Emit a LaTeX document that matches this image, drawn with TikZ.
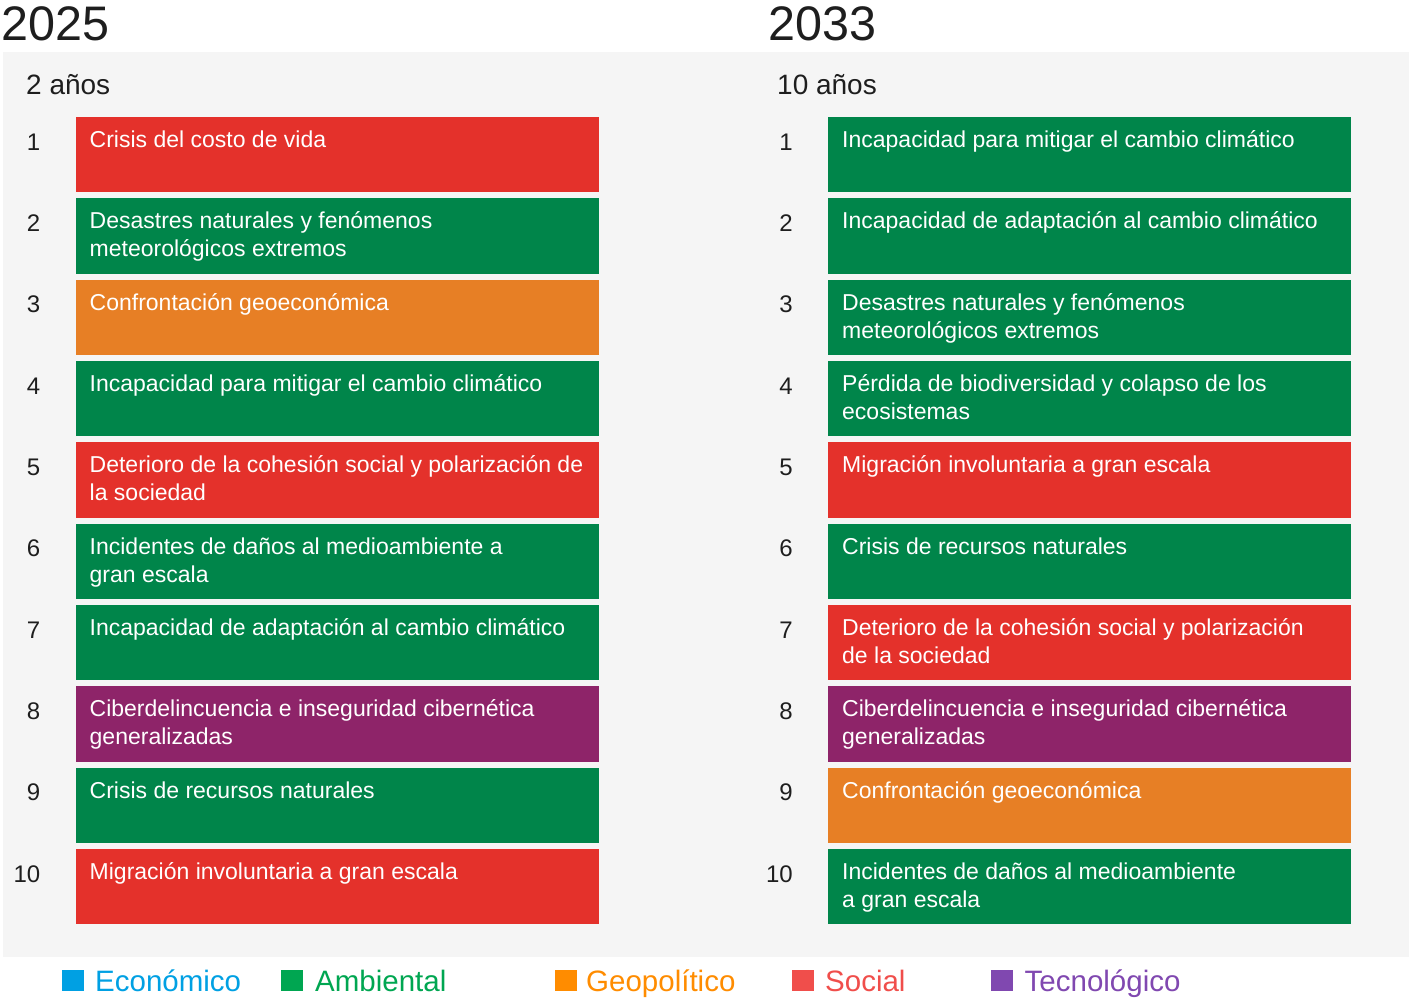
\documentclass[tikz,border=0pt]{standalone}
\usepackage{fontspec}
\setmainfont{Liberation Sans}

\definecolor{riskred}{RGB}{228,49,43}
\definecolor{riskgreen}{RGB}{0,133,74}
\definecolor{riskorange}{RGB}{231,127,37}
\definecolor{riskpurple}{RGB}{142,36,105}
\definecolor{panelgray}{RGB}{245,245,245}
\definecolor{inkdark}{RGB}{30,30,30}
\definecolor{keyblue}{RGB}{0,160,227}
\definecolor{keygreen}{RGB}{0,166,81}
\definecolor{keyorange}{RGB}{255,140,0}
\definecolor{keyred}{RGB}{240,78,75}
\definecolor{keypurple}{RGB}{128,72,176}

\tikzset{
  riskbox/.style={rectangle,anchor=north west,inner sep=0pt,minimum width=523pt,minimum height=75.5pt},
  risktext/.style={anchor=north west,inner sep=0pt,text=white,align=flush left,text width=505pt,
    xshift=14pt,yshift=-11.4pt,font=\fontsize{23}{27.7}\selectfont,
    execute at begin node={\spaceskip=0pt\xspaceskip=0pt\strut}},
  rank/.style={anchor=base east,inner sep=0pt,text=inkdark,xshift=-35pt,yshift=-33.4pt,
    font=\fontsize{24}{28}\selectfont},
  keybox/.style={rectangle,anchor=north west,inner sep=0pt,minimum width=22pt,minimum height=21pt},
  keytext/.style={anchor=base west,inner sep=0pt,font=\fontsize{29.5}{34}\selectfont}
}

\begin{document}
\begin{tikzpicture}[x=1pt,y=-1pt]
        \useasboundingbox (0,0) rectangle (1409,998);

        % Light panel behind both lists
        \fill[panelgray] (3,52) rectangle (1409,957);

        % Year headings
        \node[anchor=base west,inner sep=0pt,text=inkdark,font=\fontsize{48.5}{52}\selectfont] (yearA) at (1,41) {2025};
        \node[anchor=base west,inner sep=0pt,text=inkdark,font=\fontsize{48.5}{52}\selectfont] (yearB) at (768,41) {2033};

        % Horizon headings
        \node[anchor=base west,inner sep=0pt,text=inkdark,font=\fontsize{28}{32}\selectfont] (spanA) at (26,95) {2 años};
        \node[anchor=base west,inner sep=0pt,text=inkdark,font=\fontsize{28}{32}\selectfont] (spanB) at (777,95) {10 años};

        % Left list: 2 years
        \node[riskbox,fill=riskred] (a1) at (75.5,116.7) {};
        \node[risktext] at (a1.north west) {Crisis del costo de vida};
        \node[rank] at (a1.north west) {1};

        \node[riskbox,fill=riskgreen] (a2) at (75.5,198.0) {};
        \node[risktext] at (a2.north west) {Desastres naturales y fenómenos\\meteorológicos extremos};
        \node[rank] at (a2.north west) {2};

        \node[riskbox,fill=riskorange] (a3) at (75.5,279.4) {};
        \node[risktext] at (a3.north west) {Confrontación geoeconómica};
        \node[rank] at (a3.north west) {3};

        \node[riskbox,fill=riskgreen] (a4) at (75.5,360.7) {};
        \node[risktext] at (a4.north west) {Incapacidad para mitigar el cambio climático};
        \node[rank] at (a4.north west) {4};

        \node[riskbox,fill=riskred] (a5) at (75.5,442.0) {};
        \node[risktext] at (a5.north west) {Deterioro de la cohesión social y polarización de\\la sociedad};
        \node[rank] at (a5.north west) {5};

        \node[riskbox,fill=riskgreen] (a6) at (75.5,523.4) {};
        \node[risktext] at (a6.north west) {Incidentes de daños al medioambiente a\\gran escala};
        \node[rank] at (a6.north west) {6};

        \node[riskbox,fill=riskgreen] (a7) at (75.5,604.7) {};
        \node[risktext] at (a7.north west) {Incapacidad de adaptación al cambio climático};
        \node[rank] at (a7.north west) {7};

        \node[riskbox,fill=riskpurple] (a8) at (75.5,686.0) {};
        \node[risktext] at (a8.north west) {Ciberdelincuencia e inseguridad cibernética\\generalizadas};
        \node[rank] at (a8.north west) {8};

        \node[riskbox,fill=riskgreen] (a9) at (75.5,767.3) {};
        \node[risktext] at (a9.north west) {Crisis de recursos naturales};
        \node[rank] at (a9.north west) {9};

        \node[riskbox,fill=riskred] (a10) at (75.5,848.7) {};
        \node[risktext] at (a10.north west) {Migración involuntaria a gran escala};
        \node[rank] at (a10.north west) {10};

        % Right list: 10 years
        \node[riskbox,fill=riskgreen] (b1) at (828,116.7) {};
        \node[risktext] at (b1.north west) {Incapacidad para mitigar el cambio climático};
        \node[rank] at (b1.north west) {1};

        \node[riskbox,fill=riskgreen] (b2) at (828,198.0) {};
        \node[risktext] at (b2.north west) {Incapacidad de adaptación al cambio climático};
        \node[rank] at (b2.north west) {2};

        \node[riskbox,fill=riskgreen] (b3) at (828,279.4) {};
        \node[risktext] at (b3.north west) {Desastres naturales y fenómenos\\meteorológicos extremos};
        \node[rank] at (b3.north west) {3};

        \node[riskbox,fill=riskgreen] (b4) at (828,360.7) {};
        \node[risktext] at (b4.north west) {Pérdida de biodiversidad y colapso de los\\ecosistemas};
        \node[rank] at (b4.north west) {4};

        \node[riskbox,fill=riskred] (b5) at (828,442.0) {};
        \node[risktext] at (b5.north west) {Migración involuntaria a gran escala};
        \node[rank] at (b5.north west) {5};

        \node[riskbox,fill=riskgreen] (b6) at (828,523.4) {};
        \node[risktext] at (b6.north west) {Crisis de recursos naturales};
        \node[rank] at (b6.north west) {6};

        \node[riskbox,fill=riskred] (b7) at (828,604.7) {};
        \node[risktext] at (b7.north west) {Deterioro de la cohesión social y polarización\\de la sociedad};
        \node[rank] at (b7.north west) {7};

        \node[riskbox,fill=riskpurple] (b8) at (828,686.0) {};
        \node[risktext] at (b8.north west) {Ciberdelincuencia e inseguridad cibernética\\generalizadas};
        \node[rank] at (b8.north west) {8};

        \node[riskbox,fill=riskorange] (b9) at (828,767.3) {};
        \node[risktext] at (b9.north west) {Confrontación geoeconómica};
        \node[rank] at (b9.north west) {9};

        \node[riskbox,fill=riskgreen] (b10) at (828,848.7) {};
        \node[risktext] at (b10.north west) {Incidentes de daños al medioambiente\\a gran escala};
        \node[rank] at (b10.north west) {10};

        % Legend along the bottom
        \node[keybox,fill=keyblue] (k1) at (62,970) {};
        \node[keytext,text=keyblue] at (95,991) {Económico};
        \node[keybox,fill=keygreen] (k2) at (281,970) {};
        \node[keytext,text=keygreen] at (315,991) {Ambiental};
        \node[keybox,fill=keyorange] (k3) at (555,970) {};
        \node[keytext,text=keyorange] at (586,991) {Geopolítico};
        \node[keybox,fill=keyred] (k4) at (792,970) {};
        \node[keytext,text=keyred] at (825,991) {Social};
        \node[keybox,fill=keypurple] (k5) at (991,970) {};
        \node[keytext,text=keypurple] at (1024.5,991) {Tecnológico};
    \end{tikzpicture}
\end{document}
